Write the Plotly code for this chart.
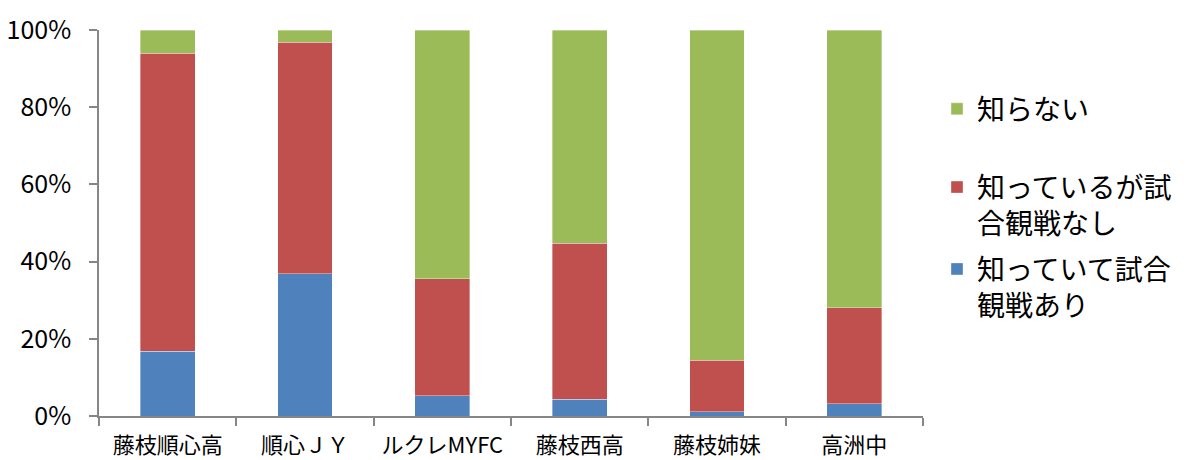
import plotly.graph_objects as go

categories = ["藤枝順心高", "順心ＪＹ", "ルクレMYFC", "藤枝西高", "藤枝姉妹", "高洲中"]
seen_match = [16.8, 36.8, 5.3, 4.3, 1.1, 3.2]
known_no_match = [77.2, 60.0, 30.3, 40.5, 13.4, 24.8]
unknown = [6.0, 3.2, 64.4, 55.2, 85.5, 72.0]
y_ticks = [0, 20, 40, 60, 80, 100]
y_tick_labels = ["0%", "20%", "40%", "60%", "80%", "100%"]

names = ["知っていて試合<br>観戦あり", "知っているが試<br>合観戦なし", "知らない"]
colors = ["#4F81BD", "#C0504D", "#9BBB59"]
series = [seen_match, known_no_match, unknown]
legends = ["legend3", "legend2", "legend"]

fig = go.Figure()
for name, vals, col, lg in zip(names, series, colors, legends):
    fig.add_trace(go.Bar(
        x=categories, y=vals, name=name,
        marker=dict(color=col, line=dict(width=0.6, color="rgba(255,255,255,0.6)")),
        legend=lg,
    ))

cjk = "Noto Sans CJK JP"
legend_common = dict(
    font=dict(family=cjk, size=28, color="#000000"),
    bgcolor="rgba(0,0,0,0)",
    xanchor="left",
    x=1.017,
    valign="top",
)

fig.update_layout(
    barmode="stack",
    bargap=0.6,
    width=1193,
    height=452,
    margin=dict(l=91, r=278, t=22, b=44, autoexpand=False),
    paper_bgcolor="white",
    plot_bgcolor="white",
    showlegend=True,
    legend=dict(**legend_common, y=0.795, yanchor="middle"),
    legend2=dict(**legend_common, y=0.657, yanchor="top"),
    legend3=dict(**legend_common, y=0.445, yanchor="top"),
    xaxis=dict(
        automargin=False,
        showline=True, linecolor="#868686", linewidth=1.5,
        ticks="outside", tickson="boundaries", ticklen=8, tickcolor="#868686", tickwidth=1.5,
        ticklabelstandoff=9,
        tickfont=dict(family=cjk, size=22, color="#000000"),
        showgrid=False,
    ),
    yaxis=dict(
        automargin=False,
        range=[0, 100], tickmode="array", tickvals=y_ticks, ticktext=y_tick_labels,
        showline=True, linecolor="#868686", linewidth=1.5,
        ticks="outside", ticklen=8, tickcolor="#868686", tickwidth=1.5,
        ticklabelstandoff=13,
        tickfont=dict(family=cjk, size=25, color="#000000"),
        showgrid=False, zeroline=False,
    ),
)

fig.write_html("out.html")
